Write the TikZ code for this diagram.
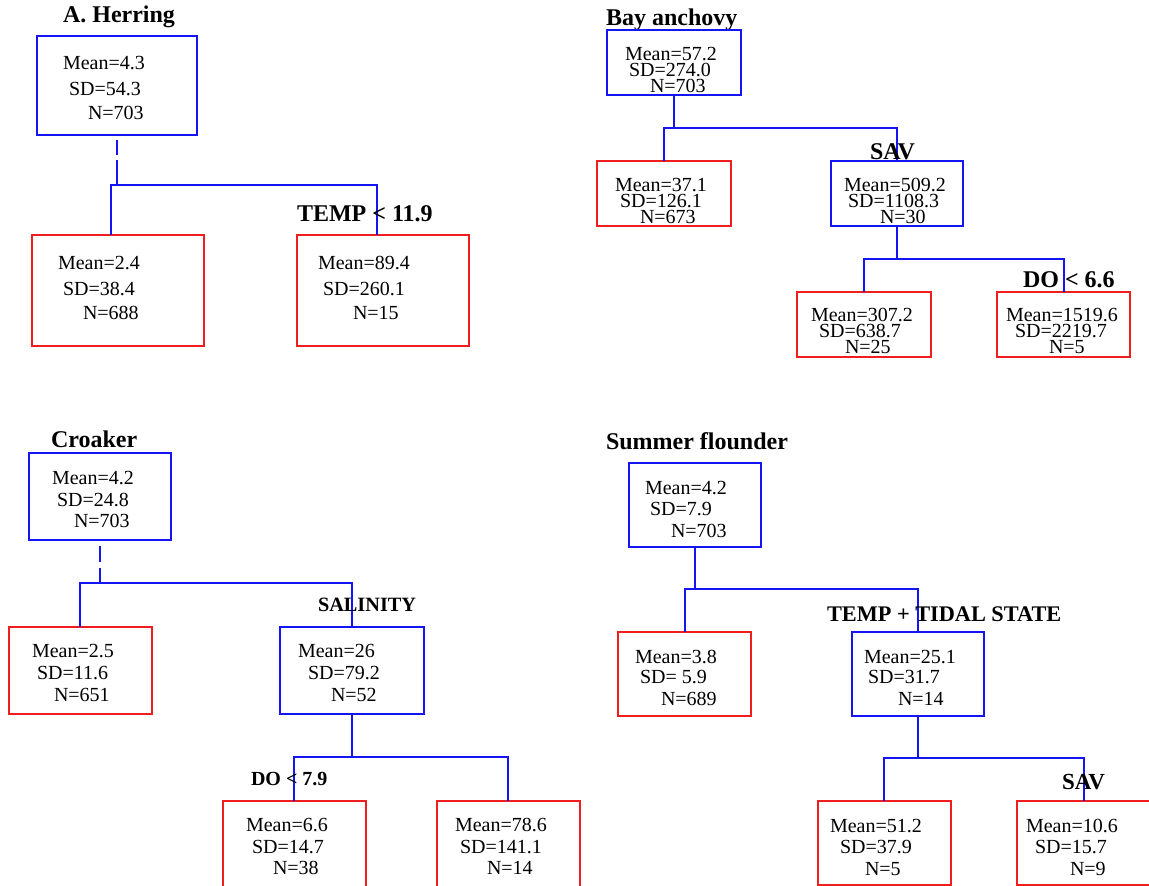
\documentclass[tikz,border=0pt]{standalone}
\usepackage{fontspec}
\setmainfont{Liberation Serif}
\definecolor{tblue}{RGB}{20,20,245}
\definecolor{tred}{RGB}{240,30,30}
\newcommand\mybox[6]{\node[#6, minimum width={#4-#2}, minimum height={#5-#3}] (#1) at ({(#2+#4)/2},{(#3+#5)/2}) {};}
\tikzset{
  bx/.style={draw, line width=1.3pt, inner sep=0pt, outer sep=0pt},
  blu/.style={bx, draw=tblue},
  rd/.style={bx, draw=tred},
  conn/.style={draw=tblue, line width=1.3pt},
  txt/.style={anchor=base west, inner sep=0pt, outer sep=0pt, font=\fontsize{20}{20}\selectfont},
  ttl/.style={anchor=base west, inner sep=0pt, outer sep=0pt, font=\fontsize{24}{24}\selectfont\bfseries},
}
\begin{document}
\begin{tikzpicture}[x=1pt, y=-1pt]
\path[use as bounding box] (0,0) rectangle (1149,886);
\clip (0,0) rectangle (1149,886);
\fill[white] (0,0) rectangle (1149,886);

% ---------------- A. Herring ----------------
\node[ttl] (ht) at (63,22) {A. Herring};
\mybox{h0}{37}{36}{197}{135}{blu}
\mybox{hL}{32}{235}{204}{346}{rd}
\mybox{hR}{297}{235}{469}{346}{rd}
\coordinate (hb) at (117,185);
\coordinate (hl) at (111,185);
\coordinate (hr) at (377,185);
\draw[conn, dash pattern=on 15pt off 5pt on 30pt off 0pt] ([yshift=-5pt]h0.south) -- (hb);
\draw[conn] (hl |- hL.north) -- (hl) -- (hr) -- (hr |- hR.north);
\node[ttl] (hlab) at (297,221) {TEMP < 11.9};
\node[txt] (h0a) at (63,69) {Mean=4.3};
\node[txt] (h0b) at (69,95) {SD=54.3};
\node[txt] (h0c) at (88,119) {N=703};
\node[txt] (hLa) at (58,269) {Mean=2.4};
\node[txt] (hLb) at (63,295) {SD=38.4};
\node[txt] (hLc) at (83,319) {N=688};
\node[txt] (hRa) at (318,269) {Mean=89.4};
\node[txt] (hRb) at (323,295) {SD=260.1};
\node[txt] (hRc) at (353,319) {N=15};

% ---------------- Bay anchovy ----------------
\node[ttl] (bt) at (606,25) {Bay anchovy};
\mybox{b0}{607}{30}{741}{95}{blu}
\mybox{bL}{597}{161}{731}{226}{rd}
\mybox{bS}{831}{161}{963}{226}{blu}
\mybox{bS1}{797}{292}{931}{357}{rd}
\mybox{bS2}{997}{292}{1130}{357}{rd}
\coordinate (bl) at (664,128);
\coordinate (br) at (897,128);
\coordinate (bsl) at (864,259);
\coordinate (bsr) at (1064,259);
\draw[conn] (b0.south) -- (b0.south |- bl);
\draw[conn] (bl |- bL.north) -- (bl) -- (br) -- (br |- bS.north);
\draw[conn] (bS.south) -- (bS.south |- bsl);
\draw[conn] (bsl |- bS1.north) -- (bsl) -- (bsr) -- (bsr |- bS2.north);
\node[ttl] (blab1) at (870,159) {SAV};
\node[ttl] (blab2) at (1023,287) {DO < 6.6};
\node[txt] (b0a) at (625,60) {Mean=57.2};
\node[txt] (b0b) at (629,76) {SD=274.0};
\node[txt] (b0c) at (650,92) {N=703};
\node[txt] (bLa) at (615,191) {Mean=37.1};
\node[txt] (bLb) at (620,207) {SD=126.1};
\node[txt] (bLc) at (640,223) {N=673};
\node[txt] (bSa) at (844,191) {Mean=509.2};
\node[txt] (bSb) at (848,207) {SD=1108.3};
\node[txt] (bSc) at (880,223) {N=30};
\node[txt] (bS1a) at (811,321) {Mean=307.2};
\node[txt] (bS1b) at (819,337) {SD=638.7};
\node[txt] (bS1c) at (845,353) {N=25};
\node[txt] (bS2a) at (1006,321) {Mean=1519.6};
\node[txt] (bS2b) at (1015,337) {SD=2219.7};
\node[txt] (bS2c) at (1049,353) {N=5};

% ---------------- Croaker ----------------
\node[ttl] (ct) at (51,447) {Croaker};
\mybox{c0}{29}{453}{171}{540}{blu}
\mybox{cL}{9}{627}{152}{714}{rd}
\mybox{cS}{280}{627}{424}{714}{blu}
\mybox{cS1}{223}{801}{366}{890}{rd}
\mybox{cS2}{437}{801}{580}{890}{rd}
\coordinate (cb) at (100,583);
\coordinate (cl) at (80,583);
\coordinate (cr) at (352,583);
\coordinate (csl) at (294,757);
\coordinate (csr) at (508,757);
\draw[conn, dash pattern=on 16pt off 6pt on 20pt off 0pt] ([yshift=-6pt]c0.south) -- (cb);
\draw[conn] (cl |- cL.north) -- (cl) -- (cr) -- (cr |- cS.north);
\draw[conn] (cS.south) -- (cS.south |- csl);
\draw[conn] (csl |- cS1.north) -- (csl) -- (csr) -- (csr |- cS2.north);
\node[ttl, font=\fontsize{20.3}{20}\selectfont\bfseries] (clab1) at (318,611) {SALINITY};
\node[ttl, font=\fontsize{20}{20}\selectfont\bfseries] (clab2) at (251,785) {DO < 7.9};
\node[txt] (c0a) at (52,484) {Mean=4.2};
\node[txt] (c0b) at (57,506) {SD=24.8};
\node[txt] (c0c) at (74,527) {N=703};
\node[txt] (cLa) at (32,657) {Mean=2.5};
\node[txt] (cLb) at (37,679) {SD=11.6};
\node[txt] (cLc) at (54,701) {N=651};
\node[txt] (cSa) at (298,657) {Mean=26};
\node[txt] (cSb) at (308,679) {SD=79.2};
\node[txt] (cSc) at (331,701) {N=52};
\node[txt] (cS1a) at (246,831) {Mean=6.6};
\node[txt] (cS1b) at (252,853) {SD=14.7};
\node[txt] (cS1c) at (273,874) {N=38};
\node[txt] (cS2a) at (455,831) {Mean=78.6};
\node[txt] (cS2b) at (460,853) {SD=141.1};
\node[txt] (cS2c) at (487,874) {N=14};

% ---------------- Summer flounder ----------------
\node[ttl] (st) at (606,449) {Summer flounder};
\mybox{s0}{629}{463}{761}{547}{blu}
\mybox{sL}{618}{632}{751}{716}{rd}
\mybox{sT}{852}{632}{984}{716}{blu}
\mybox{sT1}{818}{801}{951}{885}{rd}
\mybox{sT2}{1017}{801}{1150}{885}{rd}
\coordinate (sl) at (685,589);
\coordinate (sr) at (918,589);
\coordinate (stl) at (884,758);
\coordinate (str) at (1084,758);
\draw[conn] (s0.south) -- (s0.south |- sl);
\draw[conn] (sl |- sL.north) -- (sl) -- (sr) -- (sr |- sT.north);
\draw[conn] (sT.south) -- (sT.south |- stl);
\draw[conn] (stl |- sT1.north) -- (stl) -- (str) -- (str |- sT2.north);
\node[ttl, font=\fontsize{22.3}{22}\selectfont\bfseries] (slab1) at (827,621) {TEMP + TIDAL STATE};
\node[ttl, font=\fontsize{23}{23}\selectfont\bfseries] (slab2) at (1062,789) {SAV};
\node[txt] (s0a) at (645,494) {Mean=4.2};
\node[txt] (s0b) at (650,515) {SD=7.9};
\node[txt] (s0c) at (671,537) {N=703};
\node[txt] (sLa) at (635,663) {Mean=3.8};
\node[txt] (sLb) at (640,683) {SD= 5.9};
\node[txt] (sLc) at (661,705) {N=689};
\node[txt] (sTa) at (864,663) {Mean=25.1};
\node[txt] (sTb) at (868,683) {SD=31.7};
\node[txt] (sTc) at (898,705) {N=14};
\node[txt] (sT1a) at (830,832) {Mean=51.2};
\node[txt] (sT1b) at (840,853) {SD=37.9};
\node[txt] (sT1c) at (865,875) {N=5};
\node[txt] (sT2a) at (1026,832) {Mean=10.6};
\node[txt] (sT2b) at (1035,853) {SD=15.7};
\node[txt] (sT2c) at (1070,875) {N=9};
\end{tikzpicture}
\end{document}
